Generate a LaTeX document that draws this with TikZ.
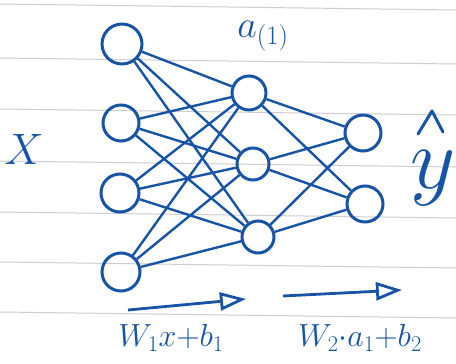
\RequirePackage{fix-cm}
\documentclass[tikz,border=0pt]{standalone}
\usetikzlibrary{arrows.meta}
\definecolor{ink}{RGB}{24,84,166}
\definecolor{rule}{RGB}{205,205,210}
\begin{document}
\begin{tikzpicture}[x=1pt,y=-1pt,
  neuron/.style={circle,draw=ink,line width=3pt,inner sep=0pt,minimum size=#1},
  neuron/.default=34pt,
  edge/.style={draw=ink,line width=2.4pt},
  lbl/.style={text=ink,inner sep=0pt},
  flow/.style={draw=ink,line width=2.8pt,-{Triangle[open,length=26pt,width=18pt,line width=2.8pt]}},
  hatstroke/.style={draw=ink,line width=3pt,line cap=round,line join=round},
  ruleline/.style={draw=rule,line width=1pt}]
\useasboundingbox (0,0) rectangle (456,364);
\fill[white] (0,0) rectangle (456,364);
% lined paper
\foreach \y in {6,60,111,163,214,264,314}{
  \draw[ruleline] (0,\y-2) -- (456,\y+4);
}
% neurons
\node[neuron=40pt] (i1) at (122,44) {};
\node[neuron=36pt] (i2) at (121,123) {};
\node[neuron=38pt] (i3) at (120,193) {};
\node[neuron=38pt] (i4) at (121,272) {};
\node[neuron=34pt] (h1) at (249,93) {};
\node[neuron=32pt] (h2) at (253,164) {};
\node[neuron=32pt] (h3) at (258,237) {};
\node[neuron=36pt] (o1) at (363,133) {};
\node[neuron=36pt] (o2) at (365,204) {};
% connections
\foreach \a in {i1,i2,i3,i4}{
  \foreach \b in {h1,h2,h3}{
    \draw[edge] (\a) -- (\b);
  }
}
\foreach \a in {h1,h2,h3}{
  \foreach \b in {o1,o2}{
    \draw[edge] (\a) -- (\b);
  }
}
% labels
\node[lbl,font=\fontsize{44}{44}\selectfont] (xl) at (24,149) {$X$};
\node[lbl,font=\fontsize{38}{38}\selectfont] (al) at (263,36) {$a_{(1)}$};
\node[lbl,anchor=north,font=\fontsize{88}{88}\selectfont] (yl) at (433,150) {$y$};
\draw[hatstroke] (418,134) -- (432,111) -- (443,132);
% flow arrows
\coordinate (f1s) at (128,310);
\coordinate (f1e) at (246,299);
\coordinate (f2s) at (283,296);
\coordinate (f2e) at (402,290);
\draw[flow] (f1s) -- (f1e);
\draw[flow] (f2s) -- (f2e);
\node[lbl,font=\fontsize{32}{32}\selectfont] (e1) at (171,338) {$W_1x{+}b_1$};
\node[lbl,font=\fontsize{32}{32}\selectfont] (e2) at (360,338) {$W_2{\cdot}a_1{+}b_2$};
\end{tikzpicture}
\end{document}
